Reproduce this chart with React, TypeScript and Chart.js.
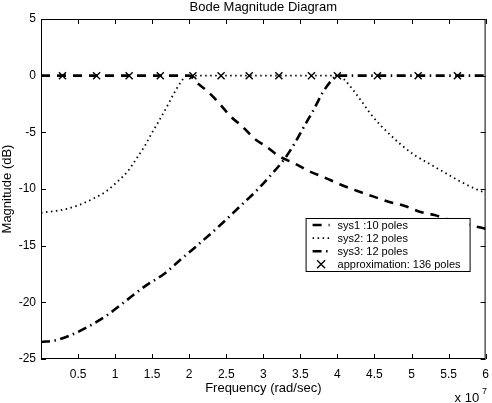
import React, { useEffect, useRef } from 'react';
import { Chart, registerables } from 'chart.js';

Chart.register(...registerables);

const FONT = '"Liberation Sans", Arial, Helvetica, sans-serif';

// Frequencies in units of 1e7 rad/sec, magnitudes in dB
const sys1Freq = [0, 1, 1.9, 2.0, 2.1, 2.25, 2.4, 2.56, 2.72, 2.87, 3.05, 3.21, 3.41, 3.61, 3.83, 4.04, 4.28, 4.48, 4.68, 4.91, 5.11, 5.31, 5.55, 5.8, 6.0];
const sys1Mag = [0, 0, 0, 0, -0.6, -1.4, -2.4, -3.6, -4.5, -5.5, -6.3, -7.1, -7.7, -8.4, -9.0, -9.6, -10.2, -10.65, -11.1, -11.5, -12.0, -12.3, -12.8, -13.2, -13.5];

const sys2Freq = [0, 0.32, 0.52, 0.72, 0.88, 1.04, 1.17, 1.28, 1.4, 1.51, 1.6, 1.71, 1.8, 1.91, 1.97, 3.0, 4.03, 4.1, 4.21, 4.33, 4.44, 4.57, 4.71, 4.86, 5.04, 5.22, 5.42, 5.62, 5.8, 5.94, 6.0];
const sys2Mag = [-12.1, -11.8, -11.4, -10.8, -10.2, -9.3, -8.45, -7.4, -6.2, -4.9, -3.9, -2.6, -1.5, -0.35, 0, 0, 0, -0.4, -1.24, -2.3, -3.3, -4.3, -5.2, -6.1, -7.0, -7.7, -8.45, -9.2, -9.8, -10.2, -10.35];

const sys3Freq = [0, 0.2, 0.4, 0.65, 0.9, 1.1, 1.42, 1.66, 1.87, 2.07, 2.45, 2.69, 2.9, 3.07, 3.28, 3.43, 3.54, 3.68, 3.81, 3.97, 4.0, 5.0, 6.0];
const sys3Mag = [-23.5, -23.35, -22.9, -22.1, -21.1, -20.1, -18.5, -17.5, -16.3, -15.2, -13.0, -11.5, -10.2, -9.0, -7.4, -5.9, -4.6, -3.0, -1.4, -0.1, 0, 0, 0];

const approxFreq = [0.29, 0.75, 1.19, 1.61, 2.05, 2.43, 2.81, 3.21, 3.65, 4.0, 4.54, 5.09, 5.62];
const approxMag = [0, 0, 0, 0, 0, 0, 0, 0, 0, 0, 0, 0, 0];

const seriesLabels = ['sys1 :10 poles', 'sys2: 12 poles', 'sys3: 12 poles', 'approximation: 136 poles'];

const xMin = 0;
const xMax = 6;
const xStep = 0.5;
const yMin = -25;
const yMax = 5;
const yStep = 5;

const titleText = 'Bode Magnitude Diagram';
const xTitle = 'Frequency (rad/sec)';
const yTitle = 'Magnitude (dB)';
const xExponentBase = 'x 10';
const xExponent = '7';

const toXY = (f: number[], m: number[]) => f.map((v, i) => ({ x: v, y: m[i] }));

const framePlugin = {
  id: 'matlabFrame',
  beforeDatasetsDraw(chart: any) {
    const { ctx, chartArea, scales } = chart;
    const { left, right, top, bottom } = chartArea;
    ctx.save();
    ctx.strokeStyle = '#000';
    ctx.lineWidth = 1;
    ctx.setLineDash([]);
    ctx.strokeRect(left + 0.5, top + 0.5, right - left - 1, bottom - top - 1);
    const tl = 5;
    ctx.beginPath();
    scales.x.ticks.forEach((t: any) => {
      const px = Math.round(scales.x.getPixelForValue(t.value)) + 0.5;
      ctx.moveTo(px, bottom);
      ctx.lineTo(px, bottom - tl);
      ctx.moveTo(px, top);
      ctx.lineTo(px, top + tl);
    });
    scales.y.ticks.forEach((t: any) => {
      const py = Math.round(scales.y.getPixelForValue(t.value)) + 0.5;
      ctx.moveTo(left, py);
      ctx.lineTo(left + tl, py);
      ctx.moveTo(right, py);
      ctx.lineTo(right - tl, py);
    });
    ctx.stroke();
    ctx.restore();
  },
};

const legendPlugin = {
  id: 'boxLegend',
  afterDatasetsDraw(chart: any) {
    const { ctx, chartArea } = chart;
    const boxW = 164;
    const boxH = 53;
    const bx = chartArea.right - 16 - boxW;
    const by = chartArea.top + 199;
    ctx.save();
    ctx.fillStyle = '#fff';
    ctx.fillRect(bx, by, boxW, boxH);
    ctx.strokeStyle = '#000';
    ctx.lineWidth = 1;
    ctx.setLineDash([]);
    ctx.strokeRect(bx + 0.5, by + 0.5, boxW, boxH);
    ctx.font = `11px ${FONT}`;
    ctx.textBaseline = 'middle';
    ctx.textAlign = 'left';
    chart.data.datasets.forEach((ds: any, i: number) => {
      const rowY = by + 7 + i * 13.1;
      const x0 = bx + 7;
      const x1 = bx + 24;
      ctx.strokeStyle = '#000';
      if (ds.showLine === false) {
        const cx = (x0 + x1) / 2;
        const r = 4;
        ctx.setLineDash([]);
        ctx.lineWidth = ds.pointBorderWidth || 1.4;
        ctx.beginPath();
        ctx.moveTo(cx - r, rowY - r);
        ctx.lineTo(cx + r, rowY + r);
        ctx.moveTo(cx + r, rowY - r);
        ctx.lineTo(cx - r, rowY + r);
        ctx.stroke();
      } else {
        ctx.setLineDash(ds.borderDash || []);
        ctx.lineWidth = ds.borderWidth;
        ctx.beginPath();
        ctx.moveTo(x0, rowY);
        ctx.lineTo(x1, rowY);
        ctx.stroke();
      }
      ctx.setLineDash([]);
      ctx.fillStyle = '#000';
      ctx.fillText(ds.label, bx + 32, rowY + 0.5);
    });
    ctx.restore();
  },
};

const textPlugin = {
  id: 'extraText',
  afterDraw(chart: any) {
    const { ctx, chartArea } = chart;
    ctx.save();
    ctx.fillStyle = '#000';
    ctx.font = `13px ${FONT}`;
    ctx.textAlign = 'center';
    ctx.textBaseline = 'alphabetic';
    ctx.fillText(titleText, (chartArea.left + chartArea.right) / 2, 11);
    ctx.textAlign = 'left';
    ctx.fillText(xExponentBase, chartArea.right - 31, 402);
    ctx.font = `9px ${FONT}`;
    ctx.fillText(xExponent, chartArea.right - 3.5, 394);
    ctx.restore();
  },
};

export default function App() {
  const ref = useRef<HTMLCanvasElement | null>(null);

  useEffect(() => {
    if (!ref.current) return;
    const chart = new Chart(ref.current, {
      type: 'line',
      data: {
        datasets: [
          {
            label: seriesLabels[0],
            data: toXY(sys1Freq, sys1Mag),
            borderColor: '#000',
            borderWidth: 2.6,
            borderDash: [9, 7],
            pointRadius: 0,
            fill: false,
            cubicInterpolationMode: 'monotone',
            order: 3,
          },
          {
            label: seriesLabels[1],
            data: toXY(sys2Freq, sys2Mag),
            borderColor: '#000',
            borderWidth: 1.8,
            borderDash: [1.5, 3.5],
            pointRadius: 0,
            fill: false,
            cubicInterpolationMode: 'monotone',
            order: 2,
          },
          {
            label: seriesLabels[2],
            data: toXY(sys3Freq, sys3Mag),
            borderColor: '#000',
            borderWidth: 2.6,
            borderDash: [9, 4.5, 1.5, 4.5],
            pointRadius: 0,
            fill: false,
            cubicInterpolationMode: 'monotone',
            order: 1,
          },
          {
            label: seriesLabels[3],
            data: toXY(approxFreq, approxMag),
            showLine: false,
            pointStyle: 'crossRot',
            pointRadius: 5,
            pointBorderWidth: 1.4,
            pointBorderColor: '#000',
            pointBackgroundColor: '#000',
            borderColor: '#000',
            order: 0,
          },
        ],
      } as any,
      options: {
        animation: false,
        responsive: false,
        maintainAspectRatio: false,
        layout: { padding: { top: 19, right: 4, bottom: 0, left: 0 } },
        plugins: {
          legend: { display: false },
          tooltip: { enabled: false },
          title: { display: false },
        },
        scales: {
          x: {
            type: 'linear',
            position: 'bottom',
            min: xMin,
            max: xMax,
            grid: { display: false, drawTicks: false },
            border: { display: false },
            ticks: {
              stepSize: xStep,
              autoSkip: false,
              maxRotation: 0,
              color: '#000',
              padding: 8,
              font: { family: FONT, size: 12 },
              callback: (v: any) => (Number(v) === 0 ? '' : String(v)),
            },
            title: {
              display: true,
              text: xTitle,
              color: '#000',
              font: { family: FONT, size: 13 },
              padding: { top: 0, bottom: 7 },
            },
            afterFit: (s: any) => {
              s.height = 44;
              s.paddingLeft = 0;
              s.paddingRight = 0;
            },
          },
          y: {
            type: 'linear',
            position: 'left',
            min: yMin,
            max: yMax,
            grid: { display: false, drawTicks: false },
            border: { display: false },
            ticks: {
              stepSize: yStep,
              color: '#000',
              padding: 5,
              font: { family: FONT, size: 12 },
            },
            title: {
              display: true,
              text: yTitle,
              color: '#000',
              font: { family: FONT, size: 13 },
              padding: { top: 0, bottom: 0 },
            },
            afterFit: (s: any) => {
              s.width = 41;
              s.paddingTop = 0;
              s.paddingBottom = 0;
            },
          },
        },
      } as any,
      plugins: [framePlugin, legendPlugin, textPlugin],
    });
    return () => chart.destroy();
  }, []);

  return (
    <div style={{ position: 'fixed', left: 0, top: 0, width: 492, height: 403, background: '#fff' }}>
      <canvas ref={ref} width={492} height={403} style={{ display: 'block', width: 492, height: 403 }} />
    </div>
  );
}
